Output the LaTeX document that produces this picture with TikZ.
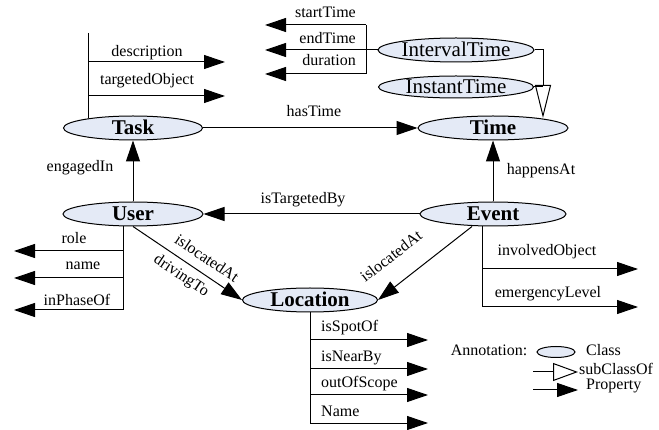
\documentclass[tikz,border=0pt]{standalone}
\usepackage{fontspec}
\setmainfont{Liberation Serif}
\usetikzlibrary{shapes.geometric}
\usetikzlibrary{arrows.meta}
\definecolor{classblue}{RGB}{228,234,246}

\begin{document}
\begin{tikzpicture}[x=1pt,y=-1pt,
	cls/.style={ellipse,draw,fill=classblue,line width=1pt,inner sep=0pt,minimum height=24pt,
		text height=14pt,text depth=0pt,font=\fontsize{21}{21}\selectfont\bfseries},
	subcls/.style={cls,font=\fontsize{21}{21}\selectfont},
	prop/.style={line width=1pt,-{Triangle[length=21pt,width=14pt]}},
	isa/.style={line width=1pt,-{Triangle[open,length=33pt,width=16pt]}},
	lbl/.style={font=\fontsize{16}{16}\selectfont,inner sep=0pt}]
				\useasboundingbox (0,0) rectangle (659,430);
				\def\tipL{265};
				\def\tipR{225};
				% classes
				\node[cls,minimum width=139pt] (task) at (133,128) {Task};
				\node[cls,minimum width=150pt] (time) at (493,128) {Time};
				\node[cls,minimum width=140pt] (user) at (133,214) {User};
				\node[cls,minimum width=146pt] (event) at (493,214) {Event};
				\node[cls,minimum width=135pt] (location) at (310,300) {Location};
				\node[subcls,minimum width=156pt] (interval) at (456,50) {IntervalTime};
				\node[subcls,minimum width=155pt,minimum height=22pt] (instant) at (456,87) {InstantTime};
				% relations between classes
				\draw[prop] (task) -- (time);
				\draw[prop] (user) -- (task);
				\draw[prop] (event) -- (user);
				\draw[prop] (event) -- (time);
				\draw[prop] (user.south) -- (location.west);
				\draw[prop] ([xshift=-21pt]event.south) -- (location.east);
				\node[lbl,anchor=base] (l-hastime) at (314,117) {hasTime};
				\node[lbl,anchor=base] (l-targeted) at (303,204) {isTargetedBy};
				\node[lbl,anchor=base] (l-engaged) at (80,172) {engagedIn};
				\node[lbl,anchor=base] (l-happens) at (541,174.5) {happensAt};
				\node[lbl,rotate=-33.8] (l-uloc) at (207,258) {islocatedAt};
				\node[lbl,rotate=-33.8] (l-drive) at (181,276) {drivingTo};
				\node[lbl,rotate=37.5] (l-eloc) at (391,256) {islocatedAt};
				% subclasses
				\coordinate (sub-tip) at (543,118);
				\draw[isa] (interval.east) -| (sub-tip);
				\draw[line width=1pt] (instant.east) -- (sub-tip |- instant.east);
				% time properties
				\coordinate (time-top) at (366,25);
				\coordinate (time-bot) at (366,74);
				\coordinate (time-start) at (\tipL,25);
				\coordinate (time-end) at (\tipL,50);
				\coordinate (time-dur) at (\tipL,74);
				\draw[line width=1pt] (time-top) -- (time-bot);
				\draw[prop] (time-top) -- (time-start);
				\draw[prop] (interval.west) -- (time-end);
				\draw[prop] (time-bot) -- (time-dur);
				\node[lbl,anchor=base east] (l-start) at (356,18) {startTime};
				\node[lbl,anchor=base east] (l-end) at (356,44) {endTime};
				\node[lbl,anchor=base east] (l-dur) at (356,66) {duration};
				% task properties
				\coordinate (task-spine) at (88,33);
				\draw[line width=1pt] (task-spine) -- (task-spine |- task.168);
				\foreach \pname/\y/\ly in {description/62/57, targetedObject/96/85} {
					\coordinate (task-\pname) at (\tipR,\y);
					\draw[prop] (task-spine |- task-\pname) -- (task-\pname);
					\node[lbl,anchor=base] (l-\pname) at (147,\ly) {\pname};
				}
				% user properties
				\coordinate (user-spine) at (123,310);
				\draw[line width=1pt] (user-spine |- user.south) -- (user-spine);
				\foreach \pname/\y/\lx/\ly in {role/251/74/243.5, name/278/83/269.5, inPhaseOf/310/77/305.5} {
					\coordinate (user-\pname) at (14,\y);
					\draw[prop] (user-spine |- user-\pname) -- (user-\pname);
					\node[lbl,anchor=base] (l-\pname) at (\lx,\ly) {\pname};
				}
				% event properties
				\coordinate (event-spine) at (482,307);
				\draw[line width=1pt] (event-spine |- event.south) -- (event-spine);
				\foreach \pname/\y/\lx/\ly in {involvedObject/269/547/255.5, emergencyLevel/307/548/298} {
					\coordinate (event-\pname) at (638,\y);
					\draw[prop] (event-spine |- event-\pname) -- (event-\pname);
					\node[lbl,anchor=base] (l-\pname) at (\lx,\ly) {\pname};
				}
				% location properties
				\coordinate (loc-spine) at (310,423);
				\draw[line width=1pt] (location.south) -- (loc-spine);
				\foreach \pname/\y/\ly in {isSpotOf/340/331.5, isNearBy/369/361.5, outOfScope/395/388, Name/423/417} {
					\coordinate (loc-\pname) at (428,\y);
					\draw[prop] (loc-spine |- loc-\pname) -- (loc-\pname);
					\node[lbl,anchor=base west] (l-\pname) at (321,\ly) {\pname};
				}
				% annotation
				\node[lbl,anchor=base] (ann) at (489,355.5) {Annotation:};
				\node[ellipse,draw,fill=classblue,line width=1pt,minimum width=38pt,minimum height=11pt,inner sep=0pt] (leg-class) at (556,352) {};
				\node[lbl,anchor=base west] (leg-class-l) at (586,355.5) {Class};
				\coordinate (leg-sub-a) at (533,372);
				\coordinate (leg-sub-b) at (578,372);
				\draw[line width=1pt,-{Triangle[open,length=25pt,width=18pt]}] (leg-sub-a) -- (leg-sub-b);
				\node[lbl,anchor=base west] (leg-sub-l) at (579,375) {subClassOf};
				\coordinate (leg-prop-a) at (533,390);
				\coordinate (leg-prop-b) at (578,390);
				\draw[prop] (leg-prop-a) -- (leg-prop-b);
				\node[lbl,anchor=base west] (leg-prop-l) at (586,389.5) {Property};
			\end{tikzpicture}
\end{document}
